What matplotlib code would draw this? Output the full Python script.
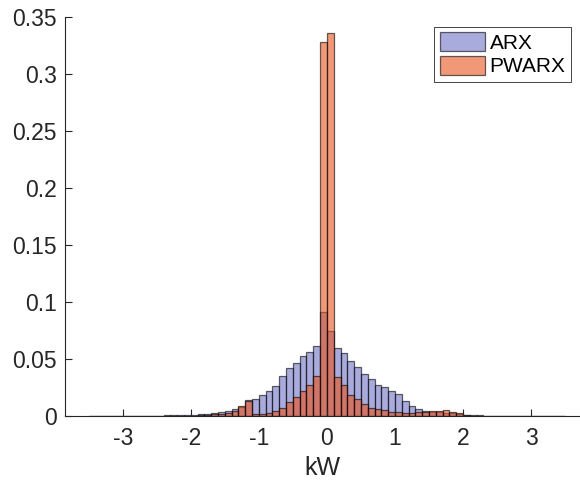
import numpy as np
import matplotlib
matplotlib.use("Agg")
import matplotlib.pyplot as plt

plt.rcParams['font.family'] = ['Liberation Sans', 'DejaVu Sans']

# bin edges: -3.5 .. 3.5, width 0.1
bin_start = -3.5
bin_width = 0.1

arx = [
    0.0002, 0.0002, 0.0003, 0.0003, 0.0003, 0.0003, 0.0003, 0.0004, 0.0004, 0.0005,
    0.0006, 0.0008, 0.0010, 0.0015, 0.0012,
    0.0015, 0.0018, 0.0023, 0.0026, 0.0033,
    0.0047, 0.0066, 0.0085, 0.0140, 0.0150,
    0.0190, 0.0220, 0.0266, 0.0351, 0.0424,
    0.0471, 0.0526, 0.0564, 0.0617, 0.0910,
    0.0746, 0.0602, 0.0550, 0.0480, 0.0430,
    0.0368, 0.0325, 0.0278, 0.0252, 0.0222,
    0.0199, 0.0137, 0.0090, 0.0064, 0.0044,
    0.0040, 0.0035, 0.0030, 0.0025, 0.0018,
    0.0012, 0.0009, 0.0007, 0.0006, 0.0005,
    0.0004, 0.0004, 0.0003, 0.0003, 0.0003, 0.0003, 0.0003, 0.0002, 0.0002, 0.0002,
]

pwarx = [
    0.0000, 0.0000, 0.0000, 0.0001, 0.0001, 0.0001, 0.0001, 0.0002, 0.0002, 0.0003,
    0.0005, 0.0005, 0.0004, 0.0004, 0.0005,
    0.0006, 0.0008, 0.0012, 0.0018, 0.0024,
    0.0032, 0.0045, 0.0088, 0.0135, 0.0016,
    0.0020, 0.0030, 0.0047, 0.0076, 0.0129,
    0.0170, 0.0222, 0.0278, 0.0357, 0.3280,
    0.3357, 0.0348, 0.0278, 0.0190, 0.0155,
    0.0111, 0.0076, 0.0067, 0.0055, 0.0041,
    0.0035, 0.0030, 0.0030, 0.0033, 0.0040,
    0.0044, 0.0050, 0.0053, 0.0035, 0.0030,
    0.0009, 0.0005, 0.0004, 0.0003, 0.0003,
    0.0002, 0.0002, 0.0002, 0.0001, 0.0001, 0.0001, 0.0001, 0.0001, 0.0000, 0.0000,
]

labels = ['ARX', 'PWARX']
yticks = [0, 0.05, 0.1, 0.15, 0.2, 0.25, 0.3, 0.35]
ytick_labels = ['0', '0.05', '0.1', '0.15', '0.2', '0.25', '0.3', '0.35']
xticks = [-3, -2, -1, 0, 1, 2, 3]
xtick_labels = ['-3', '-2', '-1', '0', '1', '2', '3']

n = len(arx)
left_edges = bin_start + bin_width * np.arange(n)

fig = plt.figure(figsize=(5.8, 4.84), dpi=100)
ax = fig.add_axes([0.112, 0.140, 0.888, 0.825])

ax.bar(left_edges, arx, width=bin_width, align='edge', color='#6f74c4', alpha=0.6,
       edgecolor='black', linewidth=0.9, label=labels[0])
ax.bar(left_edges, pwarx, width=bin_width, align='edge', color='#e8531f', alpha=0.6,
       edgecolor='black', linewidth=0.9, label=labels[1])

ax.set_xlim(-3.85, 3.72)
ax.set_ylim(0, 0.35)
ax.set_yticks(yticks)
ax.set_yticklabels(ytick_labels)
ax.set_xticks(xticks)
ax.set_xticklabels(xtick_labels)

axis_col = '#262626'
for s in ['top', 'right']:
    ax.spines[s].set_visible(False)
for s in ['left', 'bottom']:
    ax.spines[s].set_color(axis_col)
    ax.spines[s].set_linewidth(0.8)
ax.tick_params(direction='in', length=5, width=0.8, colors=axis_col, labelsize=16.5,
               labelcolor=axis_col)
ax.tick_params(axis='x', pad=8)
ax.tick_params(axis='y', pad=6)

ax.set_xlabel('kW', fontsize=18, color=axis_col, labelpad=4)

leg = ax.legend(loc='upper right', bbox_to_anchor=(0.99, 0.985), fontsize=15,
                frameon=True, fancybox=False, edgecolor='#262626', framealpha=1,
                handlelength=2.2, handleheight=1.0, handletextpad=0.2,
                borderpad=0.25, labelspacing=0.15, borderaxespad=0.2)
leg.get_frame().set_linewidth(0.6)

fig.savefig('out.png', dpi=100)
